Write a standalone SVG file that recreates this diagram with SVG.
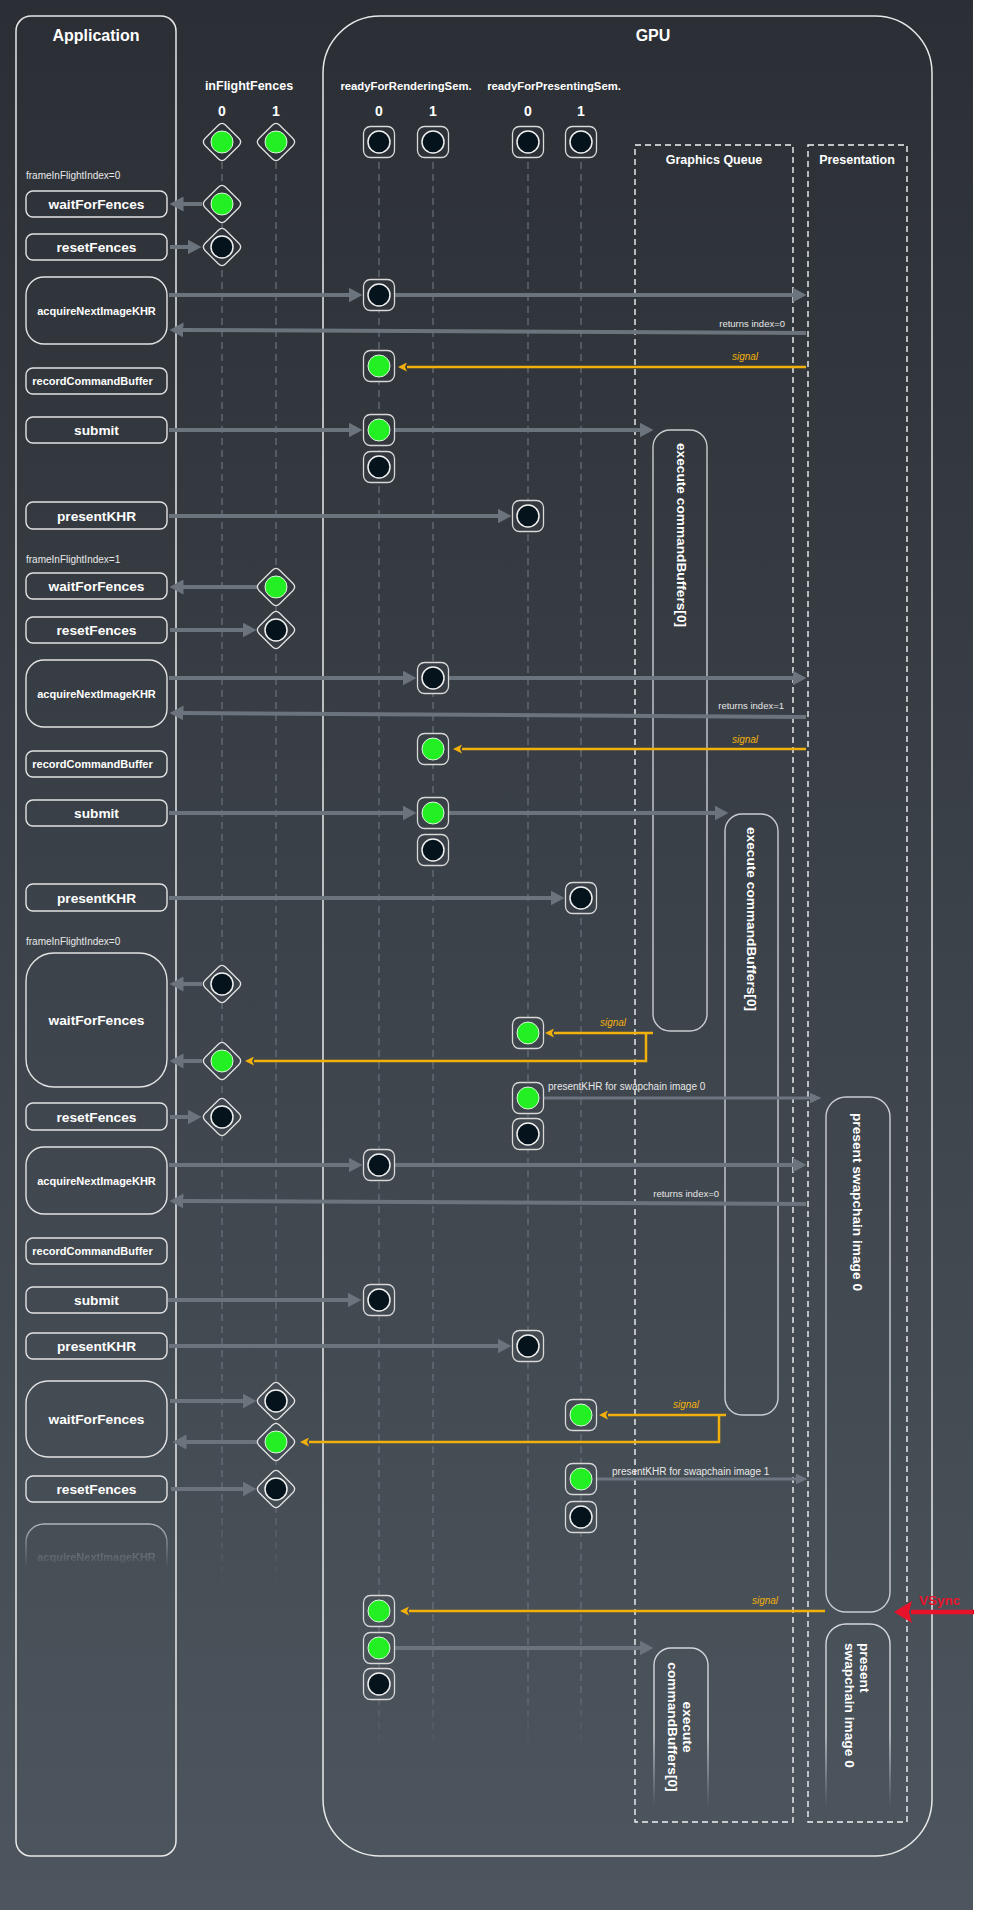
<svg xmlns="http://www.w3.org/2000/svg" width="1000" height="1910" viewBox="0 0 1000 1910">
<defs>
<linearGradient id="bg" gradientUnits="userSpaceOnUse" x1="0" y1="0" x2="0" y2="1910"><stop offset="0" stop-color="#2b2f35"/><stop offset="1" stop-color="#4d565e"/></linearGradient>
<linearGradient id="fadeF" gradientUnits="userSpaceOnUse" x1="0" y1="1500" x2="0" y2="1592"><stop offset="0" stop-color="#6b717a" stop-opacity="1"/><stop offset="1" stop-color="#6b717a" stop-opacity="0"/></linearGradient>
<linearGradient id="fadeS" gradientUnits="userSpaceOnUse" x1="0" y1="1685" x2="0" y2="1752"><stop offset="0" stop-color="#6b717a" stop-opacity="1"/><stop offset="1" stop-color="#6b717a" stop-opacity="0"/></linearGradient>
<linearGradient id="fadeB" gradientUnits="userSpaceOnUse" x1="0" y1="1735" x2="0" y2="1806"><stop offset="0" stop-color="#d4d7db" stop-opacity="1"/><stop offset="1" stop-color="#d4d7db" stop-opacity="0"/></linearGradient>
<linearGradient id="fadeA" gradientUnits="userSpaceOnUse" x1="0" y1="1522" x2="0" y2="1568"><stop offset="0" stop-color="#fff" stop-opacity="0.6"/><stop offset="1" stop-color="#fff" stop-opacity="0"/></linearGradient>
<mask id="mA" maskUnits="userSpaceOnUse" x="0" y="1500" width="200" height="100"><rect x="0" y="1500" width="200" height="100" fill="url(#fadeA)"/></mask>
<marker id="ag" markerUnits="userSpaceOnUse" markerWidth="14" markerHeight="15" refX="0.5" refY="7.5" orient="auto" viewBox="0 0 14 15"><path d="M0,0 L14,7.5 L0,15 z" fill="#6b737c"/></marker>
<marker id="agt" markerUnits="userSpaceOnUse" markerWidth="12" markerHeight="11" refX="0.5" refY="5.5" orient="auto" viewBox="0 0 12 11"><path d="M0,0 L12,5.5 L0,11 z" fill="#6d7580"/></marker>
<marker id="ao" markerUnits="userSpaceOnUse" markerWidth="9" markerHeight="9" refX="0" refY="4.5" orient="auto" viewBox="0 0 9 9"><path d="M0,0 L9,4.5 L0,9 L2,4.5 z" fill="#f2b00c"/></marker>
<marker id="ar" markerUnits="userSpaceOnUse" markerWidth="18" markerHeight="22" refX="1" refY="11" orient="auto" viewBox="0 0 18 22"><path d="M0,0 L18,11 L0,22 L3,11 z" fill="#e8132b"/></marker>
<style>
.t{font-family:"Liberation Sans",Arial,Helvetica,sans-serif;fill:#ffffff}
.b{font-weight:bold}
.n{font-size:13.7px;font-weight:bold;text-anchor:middle}
.ns{font-size:11px;font-weight:bold;text-anchor:middle}
.box{fill:none;stroke:#e2e2e2;stroke-width:1.4}
.cont{fill:none;stroke:#e8e8e8;stroke-width:1.5}
.dash{fill:none;stroke:#f2f2f2;stroke-width:1.4;stroke-dasharray:6 4}
.lf{stroke:url(#fadeF);stroke-width:1.2;stroke-dasharray:7 5;fill:none}
.ls{stroke:url(#fadeS);stroke-width:1.2;stroke-dasharray:7 5;fill:none}
.g{stroke:#6b737c;stroke-width:4;fill:none;marker-end:url(#ag)}
.gt{stroke:#6d7580;stroke-width:3;fill:none;marker-end:url(#agt)}
.o{stroke:#f2b00c;stroke-width:2.5;fill:none}
.oa{stroke:#f2b00c;stroke-width:2.5;fill:none;marker-end:url(#ao)}
.sem{fill:url(#bg);stroke:#d8d8d8;stroke-width:1.3}
.dia{fill:url(#bg);stroke:#e0e0e0;stroke-width:1.3}
.cd{fill:#05141c;stroke:#f0f0f0;stroke-width:1.5}
.cg{fill:#22f022;stroke:#e2f5e2;stroke-width:1}
.exec{fill:none;stroke:#c9cdd2;stroke-width:1.4}
.lbl{font-size:9.5px;fill:#e6e6e6}
.sig{font-size:10px;font-style:italic;fill:#f2b00c;text-anchor:middle}
.fi{font-size:10px;fill:#e8e8e8}
.hd{font-size:11.3px;font-weight:bold;text-anchor:middle}
.ix{font-size:14px;font-weight:bold;text-anchor:middle}
.vt{font-size:13.7px;font-weight:bold}
</style>
</defs>
<rect x="0" y="0" width="1000" height="1910" fill="#ffffff"/>
<rect x="0" y="0" width="973" height="1910" fill="url(#bg)"/>

<g id="application">
<rect class="cont" x="16" y="16" width="160" height="1840" rx="15"/>
<text class="t b" x="96" y="41" font-size="16" text-anchor="middle">Application</text>
<text class="t fi" x="26" y="179">frameInFlightIndex=0</text>
<text class="t fi" x="26" y="563">frameInFlightIndex=1</text>
<text class="t fi" x="26" y="945">frameInFlightIndex=0</text>
</g>
<g id="gpu">
<rect class="cont" x="323" y="16" width="609" height="1840" rx="57"/>
<text class="t b" x="653" y="41" font-size="16" text-anchor="middle">GPU</text>
</g>
<g id="graphics-queue">
<rect class="dash" x="635" y="145" width="158" height="1677"/>
<text class="t b" x="714" y="164" font-size="12.5" text-anchor="middle">Graphics Queue</text>
</g>
<g id="presentation">
<rect class="dash" x="808" y="145" width="99" height="1677"/>
<text class="t b" x="857" y="164" font-size="12.5" text-anchor="middle">Presentation</text>
</g>
<g id="headers">
<text class="t b" x="249" y="90" font-size="12.5" text-anchor="middle">inFlightFences</text>
<text class="t hd" x="406" y="90">readyForRenderingSem.</text>
<text class="t hd" x="554" y="90">readyForPresentingSem.</text>
<text class="t ix" x="222" y="116">0</text>
<text class="t ix" x="276" y="116">1</text>
<text class="t ix" x="379" y="116">0</text>
<text class="t ix" x="433" y="116">1</text>
<text class="t ix" x="528" y="116">0</text>
<text class="t ix" x="581" y="116">1</text>
</g>

<g id="lifelines">
<line class="lf" x1="222" y1="150" x2="222" y2="1592"/>
<line class="lf" x1="276" y1="150" x2="276" y2="1592"/>
<line class="ls" x1="379" y1="150" x2="379" y2="1752"/>
<line class="ls" x1="433" y1="150" x2="433" y2="1752"/>
<line class="ls" x1="528" y1="150" x2="528" y2="1752"/>
<line class="ls" x1="581" y1="150" x2="581" y2="1752"/>
</g>

<g id="app-nodes">
<g id="waitForFences-1"><rect class="box" x="26" y="191" width="141" height="26" rx="7"/><text class="t n" x="96.5" y="209">waitForFences</text></g>
<g id="resetFences-1"><rect class="box" x="26" y="234" width="141" height="26" rx="7"/><text class="t n" x="96.5" y="252">resetFences</text></g>
<g id="acquireNextImageKHR-1"><rect class="box" x="26" y="277" width="141" height="67" rx="18"/><text class="t ns" x="96.5" y="314.5">acquireNextImageKHR</text></g>
<g id="recordCommandBuffer-1"><rect class="box" x="26" y="368" width="141" height="26" rx="7"/><text class="t ns" x="92.5" y="385">recordCommandBuffer</text></g>
<g id="submit-1"><rect class="box" x="26" y="417" width="141" height="26" rx="7"/><text class="t n" x="96.5" y="435">submit</text></g>
<g id="presentKHR-1"><rect class="box" x="26" y="502" width="141" height="27" rx="7"/><text class="t n" x="96.5" y="520.5">presentKHR</text></g>
<g id="waitForFences-2"><rect class="box" x="26" y="573" width="141" height="26" rx="7"/><text class="t n" x="96.5" y="591">waitForFences</text></g>
<g id="resetFences-2"><rect class="box" x="26" y="617" width="141" height="26" rx="7"/><text class="t n" x="96.5" y="635">resetFences</text></g>
<g id="acquireNextImageKHR-2"><rect class="box" x="26" y="660" width="141" height="67" rx="18"/><text class="t ns" x="96.5" y="697.5">acquireNextImageKHR</text></g>
<g id="recordCommandBuffer-2"><rect class="box" x="26" y="751" width="141" height="26" rx="7"/><text class="t ns" x="92.5" y="768">recordCommandBuffer</text></g>
<g id="submit-2"><rect class="box" x="26" y="800" width="141" height="26" rx="7"/><text class="t n" x="96.5" y="818">submit</text></g>
<g id="presentKHR-2"><rect class="box" x="26" y="884" width="141" height="27" rx="7"/><text class="t n" x="96.5" y="902.5">presentKHR</text></g>
<g id="waitForFences-3"><rect class="box" x="26" y="953" width="141" height="134" rx="28"/><text class="t n" x="96.5" y="1025">waitForFences</text></g>
<g id="resetFences-3"><rect class="box" x="26" y="1103" width="141" height="27" rx="7"/><text class="t n" x="96.5" y="1121.5">resetFences</text></g>
<g id="acquireNextImageKHR-3"><rect class="box" x="26" y="1147" width="141" height="67" rx="18"/><text class="t ns" x="96.5" y="1184.5">acquireNextImageKHR</text></g>
<g id="recordCommandBuffer-3"><rect class="box" x="26" y="1238" width="141" height="26" rx="7"/><text class="t ns" x="92.5" y="1255">recordCommandBuffer</text></g>
<g id="submit-3"><rect class="box" x="26" y="1287" width="141" height="26" rx="7"/><text class="t n" x="96.5" y="1305">submit</text></g>
<g id="presentKHR-3"><rect class="box" x="26" y="1333" width="141" height="26" rx="7"/><text class="t n" x="96.5" y="1351">presentKHR</text></g>
<g id="waitForFences-4"><rect class="box" x="26" y="1381" width="141" height="76" rx="22"/><text class="t n" x="96.5" y="1424">waitForFences</text></g>
<g id="resetFences-4"><rect class="box" x="26" y="1476" width="141" height="26" rx="7"/><text class="t n" x="96.5" y="1494">resetFences</text></g>
<g id="acquireNextImageKHR-4" mask="url(#mA)"><path d="M26,1600 V1542 A18,18 0 0 1 44,1524 H149 A18,18 0 0 1 167,1542 V1600" fill="none" stroke="#ffffff" stroke-width="1.4"/><text class="t ns" x="96.5" y="1561">acquireNextImageKHR</text></g>
</g>

<g id="queue-nodes">
<g id="execute-1"><rect class="exec" x="653" y="430" width="54" height="601" rx="17"/><text class="t vt" transform="translate(682,443) rotate(90)" x="0" y="4.8">execute commandBuffers[0]</text></g>
<g id="execute-2"><rect class="exec" x="725" y="814" width="53" height="601" rx="17"/><text class="t vt" transform="translate(752,827) rotate(90)" x="0" y="4.8">execute commandBuffers[0]</text></g>
<g id="execute-3"><path d="M654,1806 V1665 A17,17 0 0 1 671,1648 H691 A17,17 0 0 1 708,1665 V1806" fill="none" stroke="url(#fadeB)" stroke-width="1.4"/><text class="t vt" transform="translate(680,1727) rotate(90)" text-anchor="middle"><tspan x="0" y="-3.2">execute</tspan><tspan x="0" y="11.8">commandBuffers[0]</tspan></text></g>
<g id="present-1"><rect class="exec" x="826" y="1097" width="64" height="515" rx="20"/><text class="t vt" transform="translate(858,1113) rotate(90)" x="0" y="4.8">present swapchain image 0</text></g>
<g id="present-2"><path d="M826,1806 V1644 A20,20 0 0 1 846,1624 H870 A20,20 0 0 1 890,1644 V1806" fill="none" stroke="url(#fadeB)" stroke-width="1.4"/><text class="t vt" transform="translate(858,1643) rotate(90)"><tspan x="0" y="-2.2">present</tspan><tspan x="0" y="12.8">swapchain image 0</tspan></text></g>
</g>

<g id="connectors">
<line class="g" x1="202" y1="204" x2="183" y2="204"/>
<line class="g" x1="170" y1="247" x2="188" y2="247"/>
<line class="g" x1="169" y1="295" x2="349" y2="295"/>
<line class="g" x1="395" y1="295" x2="793" y2="295"/>
<line class="g" x1="806" y1="333" x2="183" y2="330"/>
<line class="g" x1="169" y1="430" x2="349" y2="430"/>
<line class="g" x1="395" y1="430" x2="640" y2="430"/>
<line class="g" x1="169" y1="516" x2="498" y2="516"/>
<line class="g" x1="257" y1="587" x2="183" y2="587"/>
<line class="g" x1="170" y1="630" x2="243" y2="630"/>
<line class="g" x1="169" y1="678" x2="403" y2="678"/>
<line class="g" x1="449" y1="678" x2="793" y2="678"/>
<line class="g" x1="806" y1="717" x2="183" y2="713"/>
<line class="g" x1="169" y1="813" x2="403" y2="813"/>
<line class="g" x1="449" y1="813" x2="715" y2="813"/>
<line class="g" x1="169" y1="898" x2="551" y2="898"/>
<line class="g" x1="202" y1="984" x2="183" y2="984"/>
<line class="g" x1="202" y1="1061" x2="183" y2="1061"/>
<line class="g" x1="170" y1="1117" x2="188" y2="1117"/>
<line class="g" x1="169" y1="1165" x2="349" y2="1165"/>
<line class="g" x1="395" y1="1165" x2="793" y2="1165"/>
<line class="g" x1="806" y1="1204" x2="183" y2="1201"/>
<line class="g" x1="168" y1="1300" x2="348" y2="1300"/>
<line class="g" x1="169" y1="1346" x2="498" y2="1346"/>
<line class="g" x1="170" y1="1401" x2="243" y2="1401"/>
<line class="g" x1="257" y1="1442" x2="186" y2="1442"/>
<line class="g" x1="171" y1="1489" x2="243" y2="1489"/>
<line class="g" x1="395" y1="1648" x2="640" y2="1648"/>
<line class="gt" x1="544" y1="1098" x2="810" y2="1098"/>
<line class="gt" x1="597" y1="1479" x2="796" y2="1479"/>
<line class="oa" x1="806" y1="367" x2="407" y2="367"/>
<line class="oa" x1="806" y1="749" x2="462" y2="749"/>
<line class="oa" x1="653" y1="1033" x2="554" y2="1033"/>
<path class="oa" d="M646,1033 V1061 H254"/>
<line class="oa" x1="726" y1="1415" x2="608" y2="1415"/>
<path class="oa" d="M719,1415 V1442 H309"/>
<line class="oa" x1="825" y1="1611" x2="409" y2="1611"/>
<line x1="974" y1="1612" x2="911" y2="1612" stroke="#e8132b" stroke-width="4.5" marker-end="url(#ar)"/>
<text class="t lbl" x="785" y="327" text-anchor="end">returns index=0</text>
<text class="t lbl" x="784" y="709" text-anchor="end">returns index=1</text>
<text class="t lbl" x="719" y="1197" text-anchor="end">returns index=0</text>
<text class="t sig" x="745" y="360">signal</text>
<text class="t sig" x="745" y="743">signal</text>
<text class="t sig" x="613" y="1026">signal</text>
<text class="t sig" x="686" y="1408">signal</text>
<text class="t sig" x="765" y="1604">signal</text>
<text class="t fi" x="548" y="1090">presentKHR for swapchain image 0</text>
<text class="t fi" x="612" y="1475">presentKHR for swapchain image 1</text>
<text class="t b" x="919" y="1605" font-size="13.5" fill="#e8132b" style="fill:#e8132b">VSync</text>
</g>

<g id="fences">
<g id="fence0-top"><path class="dia" d="M225.7,125.2 l13.1,13.1 q3.7,3.7 0,7.4 l-13.1,13.1 q-3.7,3.7 -7.4,0 l-13.1,-13.1 q-3.7,-3.7 0,-7.4 l13.1,-13.1 q3.7,-3.7 7.4,0 z"/><circle class="cg" cx="222" cy="142" r="11"/></g>
<g id="fence0-a"><path class="dia" d="M225.7,187.2 l13.1,13.1 q3.7,3.7 0,7.4 l-13.1,13.1 q-3.7,3.7 -7.4,0 l-13.1,-13.1 q-3.7,-3.7 0,-7.4 l13.1,-13.1 q3.7,-3.7 7.4,0 z"/><circle class="cg" cx="222" cy="204" r="11"/></g>
<g id="fence0-b"><path class="dia" d="M225.7,230.2 l13.1,13.1 q3.7,3.7 0,7.4 l-13.1,13.1 q-3.7,3.7 -7.4,0 l-13.1,-13.1 q-3.7,-3.7 0,-7.4 l13.1,-13.1 q3.7,-3.7 7.4,0 z"/><circle class="cd" cx="222" cy="247" r="11"/></g>
<g id="fence0-c"><path class="dia" d="M225.7,967.2 l13.1,13.1 q3.7,3.7 0,7.4 l-13.1,13.1 q-3.7,3.7 -7.4,0 l-13.1,-13.1 q-3.7,-3.7 0,-7.4 l13.1,-13.1 q3.7,-3.7 7.4,0 z"/><circle class="cd" cx="222" cy="984" r="11"/></g>
<g id="fence0-d"><path class="dia" d="M225.7,1044.2 l13.1,13.1 q3.7,3.7 0,7.4 l-13.1,13.1 q-3.7,3.7 -7.4,0 l-13.1,-13.1 q-3.7,-3.7 0,-7.4 l13.1,-13.1 q3.7,-3.7 7.4,0 z"/><circle class="cg" cx="222" cy="1061" r="11"/></g>
<g id="fence0-e"><path class="dia" d="M225.7,1100.2 l13.1,13.1 q3.7,3.7 0,7.4 l-13.1,13.1 q-3.7,3.7 -7.4,0 l-13.1,-13.1 q-3.7,-3.7 0,-7.4 l13.1,-13.1 q3.7,-3.7 7.4,0 z"/><circle class="cd" cx="222" cy="1117" r="11"/></g>
<g id="fence1-top"><path class="dia" d="M279.7,125.2 l13.1,13.1 q3.7,3.7 0,7.4 l-13.1,13.1 q-3.7,3.7 -7.4,0 l-13.1,-13.1 q-3.7,-3.7 0,-7.4 l13.1,-13.1 q3.7,-3.7 7.4,0 z"/><circle class="cg" cx="276" cy="142" r="11"/></g>
<g id="fence1-a"><path class="dia" d="M279.7,570.2 l13.1,13.1 q3.7,3.7 0,7.4 l-13.1,13.1 q-3.7,3.7 -7.4,0 l-13.1,-13.1 q-3.7,-3.7 0,-7.4 l13.1,-13.1 q3.7,-3.7 7.4,0 z"/><circle class="cg" cx="276" cy="587" r="11"/></g>
<g id="fence1-b"><path class="dia" d="M279.7,613.2 l13.1,13.1 q3.7,3.7 0,7.4 l-13.1,13.1 q-3.7,3.7 -7.4,0 l-13.1,-13.1 q-3.7,-3.7 0,-7.4 l13.1,-13.1 q3.7,-3.7 7.4,0 z"/><circle class="cd" cx="276" cy="630" r="11"/></g>
<g id="fence1-c"><path class="dia" d="M279.7,1384.2 l13.1,13.1 q3.7,3.7 0,7.4 l-13.1,13.1 q-3.7,3.7 -7.4,0 l-13.1,-13.1 q-3.7,-3.7 0,-7.4 l13.1,-13.1 q3.7,-3.7 7.4,0 z"/><circle class="cd" cx="276" cy="1401" r="11"/></g>
<g id="fence1-d"><path class="dia" d="M279.7,1425.2 l13.1,13.1 q3.7,3.7 0,7.4 l-13.1,13.1 q-3.7,3.7 -7.4,0 l-13.1,-13.1 q-3.7,-3.7 0,-7.4 l13.1,-13.1 q3.7,-3.7 7.4,0 z"/><circle class="cg" cx="276" cy="1442" r="11"/></g>
<g id="fence1-e"><path class="dia" d="M279.7,1472.2 l13.1,13.1 q3.7,3.7 0,7.4 l-13.1,13.1 q-3.7,3.7 -7.4,0 l-13.1,-13.1 q-3.7,-3.7 0,-7.4 l13.1,-13.1 q3.7,-3.7 7.4,0 z"/><circle class="cd" cx="276" cy="1489" r="11"/></g>
</g>

<g id="semaphores">
<g id="rs0-top"><rect class="sem" x="363.5" y="126.5" width="31" height="31" rx="7"/><circle class="cd" cx="379" cy="142" r="11"/></g>
<g id="rs0-a"><rect class="sem" x="363.5" y="279.5" width="31" height="31" rx="7"/><circle class="cd" cx="379" cy="295" r="11"/></g>
<g id="rs0-b"><rect class="sem" x="363.5" y="350.5" width="31" height="31" rx="7"/><circle class="cg" cx="379" cy="366" r="11"/></g>
<g id="rs0-c"><rect class="sem" x="363.5" y="414.5" width="31" height="31" rx="7"/><circle class="cg" cx="379" cy="430" r="11"/></g>
<g id="rs0-d"><rect class="sem" x="363.5" y="451.5" width="31" height="31" rx="7"/><circle class="cd" cx="379" cy="467" r="11"/></g>
<g id="rs0-e"><rect class="sem" x="363.5" y="1149.5" width="31" height="31" rx="7"/><circle class="cd" cx="379" cy="1165" r="11"/></g>
<g id="rs0-f"><rect class="sem" x="363.5" y="1284.5" width="31" height="31" rx="7"/><circle class="cd" cx="379" cy="1300" r="11"/></g>
<g id="rs0-g"><rect class="sem" x="363.5" y="1595.5" width="31" height="31" rx="7"/><circle class="cg" cx="379" cy="1611" r="11"/></g>
<g id="rs0-h"><rect class="sem" x="363.5" y="1632.5" width="31" height="31" rx="7"/><circle class="cg" cx="379" cy="1648" r="11"/></g>
<g id="rs0-i"><rect class="sem" x="363.5" y="1668.5" width="31" height="31" rx="7"/><circle class="cd" cx="379" cy="1684" r="11"/></g>
<g id="rs1-top"><rect class="sem" x="417.5" y="126.5" width="31" height="31" rx="7"/><circle class="cd" cx="433" cy="142" r="11"/></g>
<g id="rs1-a"><rect class="sem" x="417.5" y="662.5" width="31" height="31" rx="7"/><circle class="cd" cx="433" cy="678" r="11"/></g>
<g id="rs1-b"><rect class="sem" x="417.5" y="733.5" width="31" height="31" rx="7"/><circle class="cg" cx="433" cy="749" r="11"/></g>
<g id="rs1-c"><rect class="sem" x="417.5" y="797.5" width="31" height="31" rx="7"/><circle class="cg" cx="433" cy="813" r="11"/></g>
<g id="rs1-d"><rect class="sem" x="417.5" y="834.5" width="31" height="31" rx="7"/><circle class="cd" cx="433" cy="850" r="11"/></g>
<g id="ps0-top"><rect class="sem" x="512.5" y="126.5" width="31" height="31" rx="7"/><circle class="cd" cx="528" cy="142" r="11"/></g>
<g id="ps0-a"><rect class="sem" x="512.5" y="500.5" width="31" height="31" rx="7"/><circle class="cd" cx="528" cy="516" r="11"/></g>
<g id="ps0-b"><rect class="sem" x="512.5" y="1017.5" width="31" height="31" rx="7"/><circle class="cg" cx="528" cy="1033" r="11"/></g>
<g id="ps0-c"><rect class="sem" x="512.5" y="1082.5" width="31" height="31" rx="7"/><circle class="cg" cx="528" cy="1098" r="11"/></g>
<g id="ps0-d"><rect class="sem" x="512.5" y="1118.5" width="31" height="31" rx="7"/><circle class="cd" cx="528" cy="1134" r="11"/></g>
<g id="ps0-e"><rect class="sem" x="512.5" y="1330.5" width="31" height="31" rx="7"/><circle class="cd" cx="528" cy="1346" r="11"/></g>
<g id="ps1-top"><rect class="sem" x="565.5" y="126.5" width="31" height="31" rx="7"/><circle class="cd" cx="581" cy="142" r="11"/></g>
<g id="ps1-a"><rect class="sem" x="565.5" y="882.5" width="31" height="31" rx="7"/><circle class="cd" cx="581" cy="898" r="11"/></g>
<g id="ps1-b"><rect class="sem" x="565.5" y="1399.5" width="31" height="31" rx="7"/><circle class="cg" cx="581" cy="1415" r="11"/></g>
<g id="ps1-c"><rect class="sem" x="565.5" y="1463.5" width="31" height="31" rx="7"/><circle class="cg" cx="581" cy="1479" r="11"/></g>
<g id="ps1-d"><rect class="sem" x="565.5" y="1501.5" width="31" height="31" rx="7"/><circle class="cd" cx="581" cy="1517" r="11"/></g>
</g>
</svg>
